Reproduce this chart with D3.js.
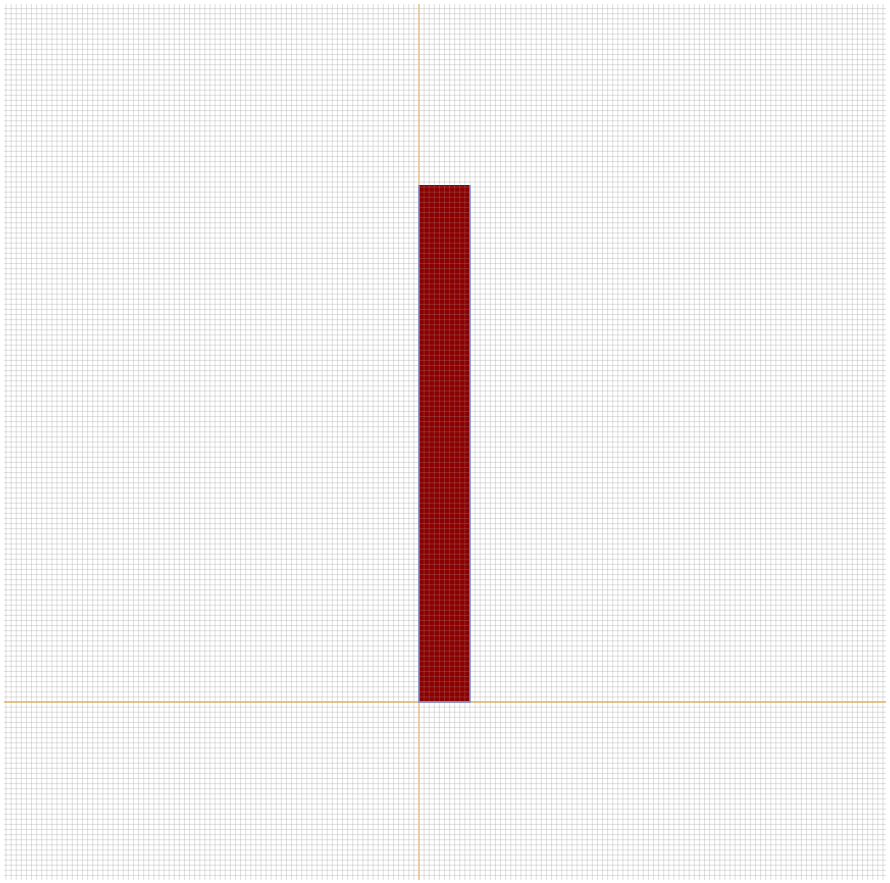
<!DOCTYPE html>
<html><head><meta charset="utf-8">
<script src="https://cdn.jsdelivr.net/npm/d3@7"></script>
<style>html,body{margin:0;padding:0;background:#fff;}svg{display:block;}</style>
</head><body>
<svg id="chart" width="890" height="883"></svg>
<script>
const categories = ["A"];
const barStart = [0];
const barWidth = [1];
const values = [10.14];
const xDomain = [-8.14, 9.16];
const yDomain = [-3.49, 13.69];
const gridStep = 0.1;

(function(){
const svg = d3.select("#chart");
const pl = 4, pr = 886, pt = 4, pb = 880;
const x = d3.scaleLinear().domain(xDomain).range([pl, pr]);
const y = d3.scaleLinear().domain(yDomain).range([pb, pt]);

const xs = d3.range(Math.ceil(xDomain[0]/gridStep), Math.floor(xDomain[1]/gridStep)+1).map(k=>k*gridStep);
const ys = d3.range(Math.ceil(yDomain[0]/gridStep), Math.floor(yDomain[1]/gridStep)+1).map(k=>k*gridStep);

function drawGrid(parent, opacity){
  const grid = parent.append("g").attr("stroke","#b0b0b0").attr("stroke-opacity",opacity).attr("stroke-width",1);
  grid.selectAll("line.vx").data(xs).join("line").attr("class","vx")
    .attr("x1",d=>x(d)).attr("x2",d=>x(d)).attr("y1",pt).attr("y2",pb);
  grid.selectAll("line.hy").data(ys).join("line").attr("class","hy")
    .attr("y1",d=>y(d)).attr("y2",d=>y(d)).attr("x1",pl).attr("x2",pr);
  return grid;
}

drawGrid(svg, 0.4);

svg.append("line").attr("x1",x(0)).attr("x2",x(0)).attr("y1",pt).attr("y2",pb)
  .attr("stroke","#e3c592").attr("stroke-width",1.5);

const barX = (i)=>x(barStart[i]);
const barW = (i)=>x(barStart[i]+barWidth[i]) - x(barStart[i]);
svg.selectAll("rect.bar").data(categories).join("rect")
  .attr("class","bar")
  .attr("x", (d,i)=>barX(i))
  .attr("width", (d,i)=>barW(i))
  .attr("y", (d,i)=>y(values[i]))
  .attr("height", (d,i)=>y(0)-y(values[i]))
  .attr("fill","#8b0000");

const defs = svg.append("defs");
const cp = defs.append("clipPath").attr("id","barclip");
cp.selectAll("rect").data(categories).join("rect")
  .attr("x", (d,i)=>barX(i)).attr("width", (d,i)=>barW(i))
  .attr("y", (d,i)=>y(values[i])).attr("height", (d,i)=>y(0)-y(values[i]));
const overlay = svg.append("g").attr("clip-path","url(#barclip)");
drawGrid(overlay, 0.22);

svg.append("line").attr("y1",y(0)).attr("y2",y(0)).attr("x1",pl).attr("x2",pr)
  .attr("stroke","#e0b56a").attr("stroke-width",1.5);
svg.selectAll("path.outline").data(categories).join("path").attr("class","outline")
  .attr("d",(d,i)=>{
    const x0 = x(barStart[i]), x1 = x(barStart[i]+barWidth[i]), y0 = y(0), y1 = y(values[i]);
    return `M${x0},${y1}L${x0},${y0}L${x1},${y0}L${x1},${y1}`;
  })
  .attr("fill","none").attr("stroke","#7486d6").attr("stroke-width",1.5);
})();
</script>
</body></html>
